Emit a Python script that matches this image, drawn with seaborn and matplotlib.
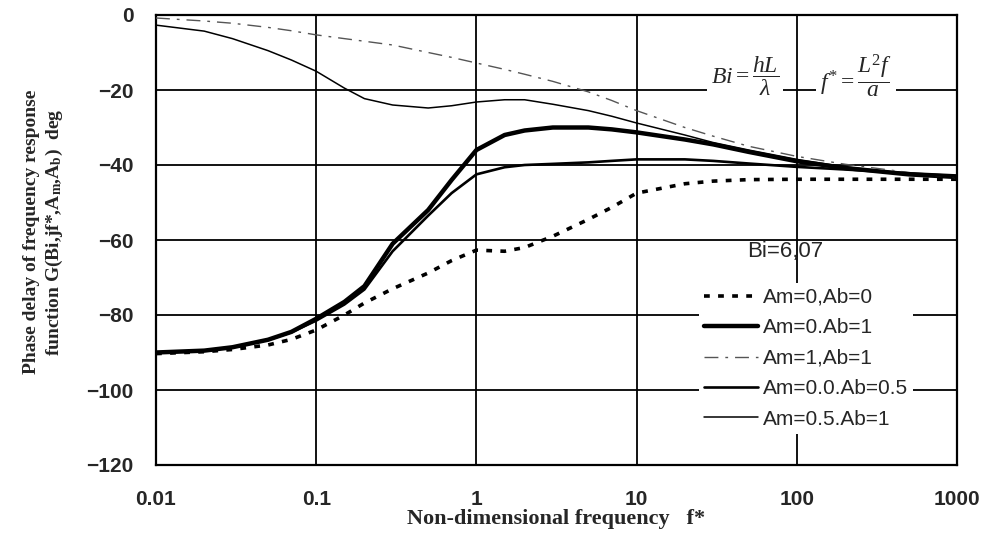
import matplotlib
matplotlib.use("Agg")
import matplotlib.pyplot as plt
import seaborn as sns
from matplotlib.ticker import FixedLocator, FixedFormatter, NullLocator

# Non-dimensional frequency f* (log scale)
freq = [0.01, 0.02, 0.03, 0.05, 0.07, 0.1, 0.15, 0.2, 0.3, 0.5, 0.7, 1, 1.5,
        2, 3, 5, 7, 10, 20, 30, 50, 100, 200, 500, 1000]

# Phase delay (deg) for each boundary-condition case
am0_ab0 = [-90.3, -89.8, -89.2, -88.0, -86.5, -84.0, -80.0, -76.8, -73.0, -68.8,
           -65.5, -62.7, -63.0, -62.0, -59.0, -54.5, -51.3, -47.5, -45.0, -44.3,
           -43.9, -43.8, -43.8, -43.8, -43.8]
am0_ab1 = [-90.0, -89.5, -88.6, -86.6, -84.5, -81.0, -76.5, -72.3, -61.0, -52.0,
           -44.0, -36.0, -32.0, -30.8, -30.0, -30.0, -30.5, -31.3, -33.2, -34.5,
           -36.5, -39.0, -40.8, -42.5, -43.2]
am1_ab1 = [-0.8, -1.6, -2.2, -3.3, -4.2, -5.3, -6.3, -7.0, -8.0, -10.0, -11.3,
           -12.8, -14.5, -15.8, -17.7, -20.5, -22.8, -25.5, -30.0, -32.3, -35.0,
           -37.7, -39.8, -42.0, -43.4]
am0_ab05 = [-90.0, -89.5, -88.6, -86.6, -84.6, -81.5, -77.2, -73.2, -63.0, -53.5,
            -47.5, -42.5, -40.6, -40.0, -39.7, -39.3, -38.9, -38.5, -38.5, -38.9,
            -39.6, -40.5, -41.2, -42.2, -42.8]
am05_ab1 = [-2.7, -4.3, -6.3, -9.5, -12.0, -15.0, -19.5, -22.3, -24.0, -24.8,
            -24.2, -23.2, -22.6, -22.6, -23.8, -25.5, -27.0, -28.8, -32.0, -34.0,
            -36.0, -38.5, -40.5, -42.3, -43.3]

labels = ["Am=0,Ab=0", "Am=0.Ab=1", "Am=1,Ab=1", "Am=0.0.Ab=0.5", "Am=0.5.Ab=1"]
x_ticks = [0.01, 0.1, 1, 10, 100, 1000]
x_tick_labels = ["0.01", "0.1", "1", "10", "100", "1000"]
y_ticks = [0, -20, -40, -60, -80, -100, -120]

sns.set_theme(style="white")
plt.rcParams["font.family"] = ["Liberation Sans", "DejaVu Sans"]
plt.rcParams["mathtext.fontset"] = "custom"
plt.rcParams["mathtext.rm"] = "Liberation Serif"
plt.rcParams["mathtext.it"] = "Liberation Serif:italic"

fig = plt.figure(figsize=(9.9, 5.49), dpi=100)
ax = fig.add_axes([156 / 990, 1 - 465 / 549, 801 / 990, 450 / 549])

styles = [
    dict(color="black", lw=2.6, linestyle=(0, (1.6, 2.3))),
    dict(color="black", lw=3.2, linestyle="-"),
    dict(color="#555555", lw=1.0, linestyle=(0, (10, 5, 2, 5))),
    dict(color="black", lw=1.9, linestyle="-"),
    dict(color="black", lw=1.1, linestyle="-"),
]
series = [am0_ab0, am0_ab1, am1_ab1, am0_ab05, am05_ab1]

for vals, lab, st in zip(series, labels, styles):
    sns.lineplot(x=freq, y=vals, ax=ax, label=lab, zorder=3, **st)

ax.set_xscale("log")
ax.set_xlim(0.01, 1000)
ax.set_ylim(-120, 0)
ax.xaxis.set_major_locator(FixedLocator(x_ticks))
ax.xaxis.set_major_formatter(FixedFormatter(x_tick_labels))
ax.xaxis.set_minor_locator(NullLocator())
ax.set_yticks(y_ticks)
ax.set_yticklabels([str(v).replace("-", "\u2212") for v in y_ticks])

ax.grid(True, which="major", color="black", lw=1.3)
ax.set_axisbelow(True)
for sp in ax.spines.values():
    sp.set_color("black")
    sp.set_linewidth(1.6)
ax.tick_params(axis="x", length=0, pad=18, labelsize=15)
ax.tick_params(axis="y", length=0, pad=16, labelsize=15)
for t in ax.get_xticklabels() + ax.get_yticklabels():
    t.set_fontweight("bold")

ax.set_xlabel("Non-dimensional frequency   f*", family="Liberation Serif",
              fontweight="bold", fontsize=16, labelpad=0)
fig.text(44 / 990, 1 - 232 / 549,
         "Phase delay of frequency response\n"
         "function G(Bi,jf*,A$_{\\mathregular{m}}$,A$_{\\mathregular{b}}$)  deg",
         family="Liberation Serif", fontweight="bold", fontsize=14,
         rotation=90, ha="center", va="center", multialignment="center",
         linespacing=1.25)

# Definitions of the dimensionless groups
box = dict(facecolor="white", edgecolor="none", pad=3)
ax.text(47.5, -16.3, r"$Bi=\dfrac{hL}{\lambda}$", fontsize=17, ha="center",
        va="center", bbox=box, zorder=4)
ax.text(234, -16.3, r"$f^{*}=\dfrac{L^{2}f}{a}$", fontsize=17, ha="center",
        va="center", bbox=box, zorder=4)

ax.text(49, -63.2, "Bi=6,07", fontsize=16, ha="left", va="center", zorder=4)

leg = ax.legend(loc="upper left", bbox_to_anchor=(0.678, 0.405), frameon=True,
                fontsize=15, handlelength=2.6, handletextpad=0.2,
                labelspacing=0.55, borderpad=0.25, borderaxespad=0)
leg.get_frame().set_edgecolor("none")
leg.get_frame().set_facecolor("white")
leg.get_frame().set_alpha(1)
leg.get_frame().set_boxstyle("square", pad=0)
leg.set_zorder(5)

fig.savefig("out.png", dpi=100)
